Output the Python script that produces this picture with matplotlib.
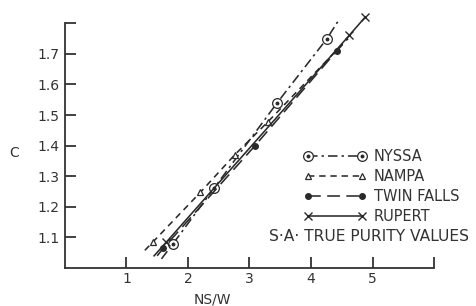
import matplotlib
matplotlib.use('Agg')
import matplotlib.pyplot as plt

# values
nyssa_x = [1.57, 1.76, 2.42, 3.45, 4.26, 4.45]
nyssa_y = [1.03, 1.08, 1.26, 1.54, 1.75, 1.81]
nampa_x = [1.30, 1.43, 2.20, 2.76, 3.30, 4.60]
nampa_y = [1.058, 1.085, 1.247, 1.37, 1.478, 1.75]
twin_x = [1.50, 1.60, 3.09, 4.42, 4.60]
twin_y = [1.04, 1.065, 1.40, 1.71, 1.75]
rupert_x = [1.45, 1.65, 4.62, 4.88]
rupert_y = [1.04, 1.085, 1.76, 1.82]

xticks = [1, 2, 3, 4, 5, 6]
xlabels = ['1', '2', '3', '4', '5', '']
yticks = [1.1, 1.2, 1.3, 1.4, 1.5, 1.6, 1.7, 1.8]
ylabels = ['1.1', '1.2', '1.3', '1.4', '1.5', '1.6', '1.7', '']

ink = '#2a2a2a'
txt = '#333333'

fig = plt.figure(figsize=(4.77, 3.06), dpi=100)
ax = fig.add_axes([0.136, 0.124, 0.774, 0.80])

ny_line, = ax.plot(nyssa_x, nyssa_y, color=ink, lw=1.15, ls=(0, (6, 2.5, 1.5, 2.5)),
                   marker='o', mfc='white', mec=ink, mew=0.9, ms=7,
                   markevery=[1, 2, 3, 4], clip_on=False)
ny_dot, = ax.plot(nyssa_x[1:5], nyssa_y[1:5], ls='none', marker='o', ms=1.8,
                  color=ink, clip_on=False)
na_line, = ax.plot(nampa_x, nampa_y, color=ink, lw=1.15, ls=(0, (4, 3)),
                   marker='^', mfc='white', mec=ink, mew=0.9, ms=5,
                   markevery=[1, 2, 3, 4], clip_on=False)
tw_line, = ax.plot(twin_x, twin_y, color=ink, lw=1.15, ls=(0, (8, 4)),
                   marker='o', ms=4, markevery=[1, 2, 3], clip_on=False)
ru_line, = ax.plot(rupert_x, rupert_y, color=ink, lw=1.15, ls='-',
                   marker='x', ms=6, mew=1.0, markevery=[1, 2, 3], clip_on=False)

ax.set_xlim(0, 6)
ax.set_ylim(1.0, 1.8)
ax.set_xticks(xticks)
ax.set_xticklabels(xlabels)
ax.set_yticks(yticks)
ax.set_yticklabels(ylabels)
ax.tick_params(direction='in', length=8, width=1.3, labelsize=10, colors=txt)
ax.tick_params(axis='x', pad=3)
ax.tick_params(axis='y', pad=4)
for s in ['top', 'right']:
    ax.spines[s].set_visible(False)
for s in ['left', 'bottom']:
    ax.spines[s].set_linewidth(1.3)
    ax.spines[s].set_color(txt)

ax.set_xlabel('NS/W', fontsize=10, color=txt)
ax.xaxis.set_label_coords(0.40, -0.10)
ax.set_ylabel('C', fontsize=10, color=txt, rotation=0, ha='center', va='center')
ax.yaxis.set_label_coords(-0.138, 0.47)

leg = ax.legend([(ny_line, ny_dot), na_line, tw_line, ru_line],
                ['NYSSA', 'NAMPA', 'TWIN FALLS', 'RUPERT'],
                loc='upper left', bbox_to_anchor=(0.631, 0.51), frameon=False,
                handlelength=4.3, handletextpad=0.5, numpoints=2, labelspacing=0.35,
                fontsize=10.5, borderaxespad=0, borderpad=0.4)
for t in leg.get_texts():
    t.set_color(txt)
ax.text(0.553, 0.11, 'S·A· TRUE PURITY VALUES', transform=ax.transAxes,
        fontsize=11.2, color=txt, va='baseline')

fig.savefig('out.png', dpi=100)
